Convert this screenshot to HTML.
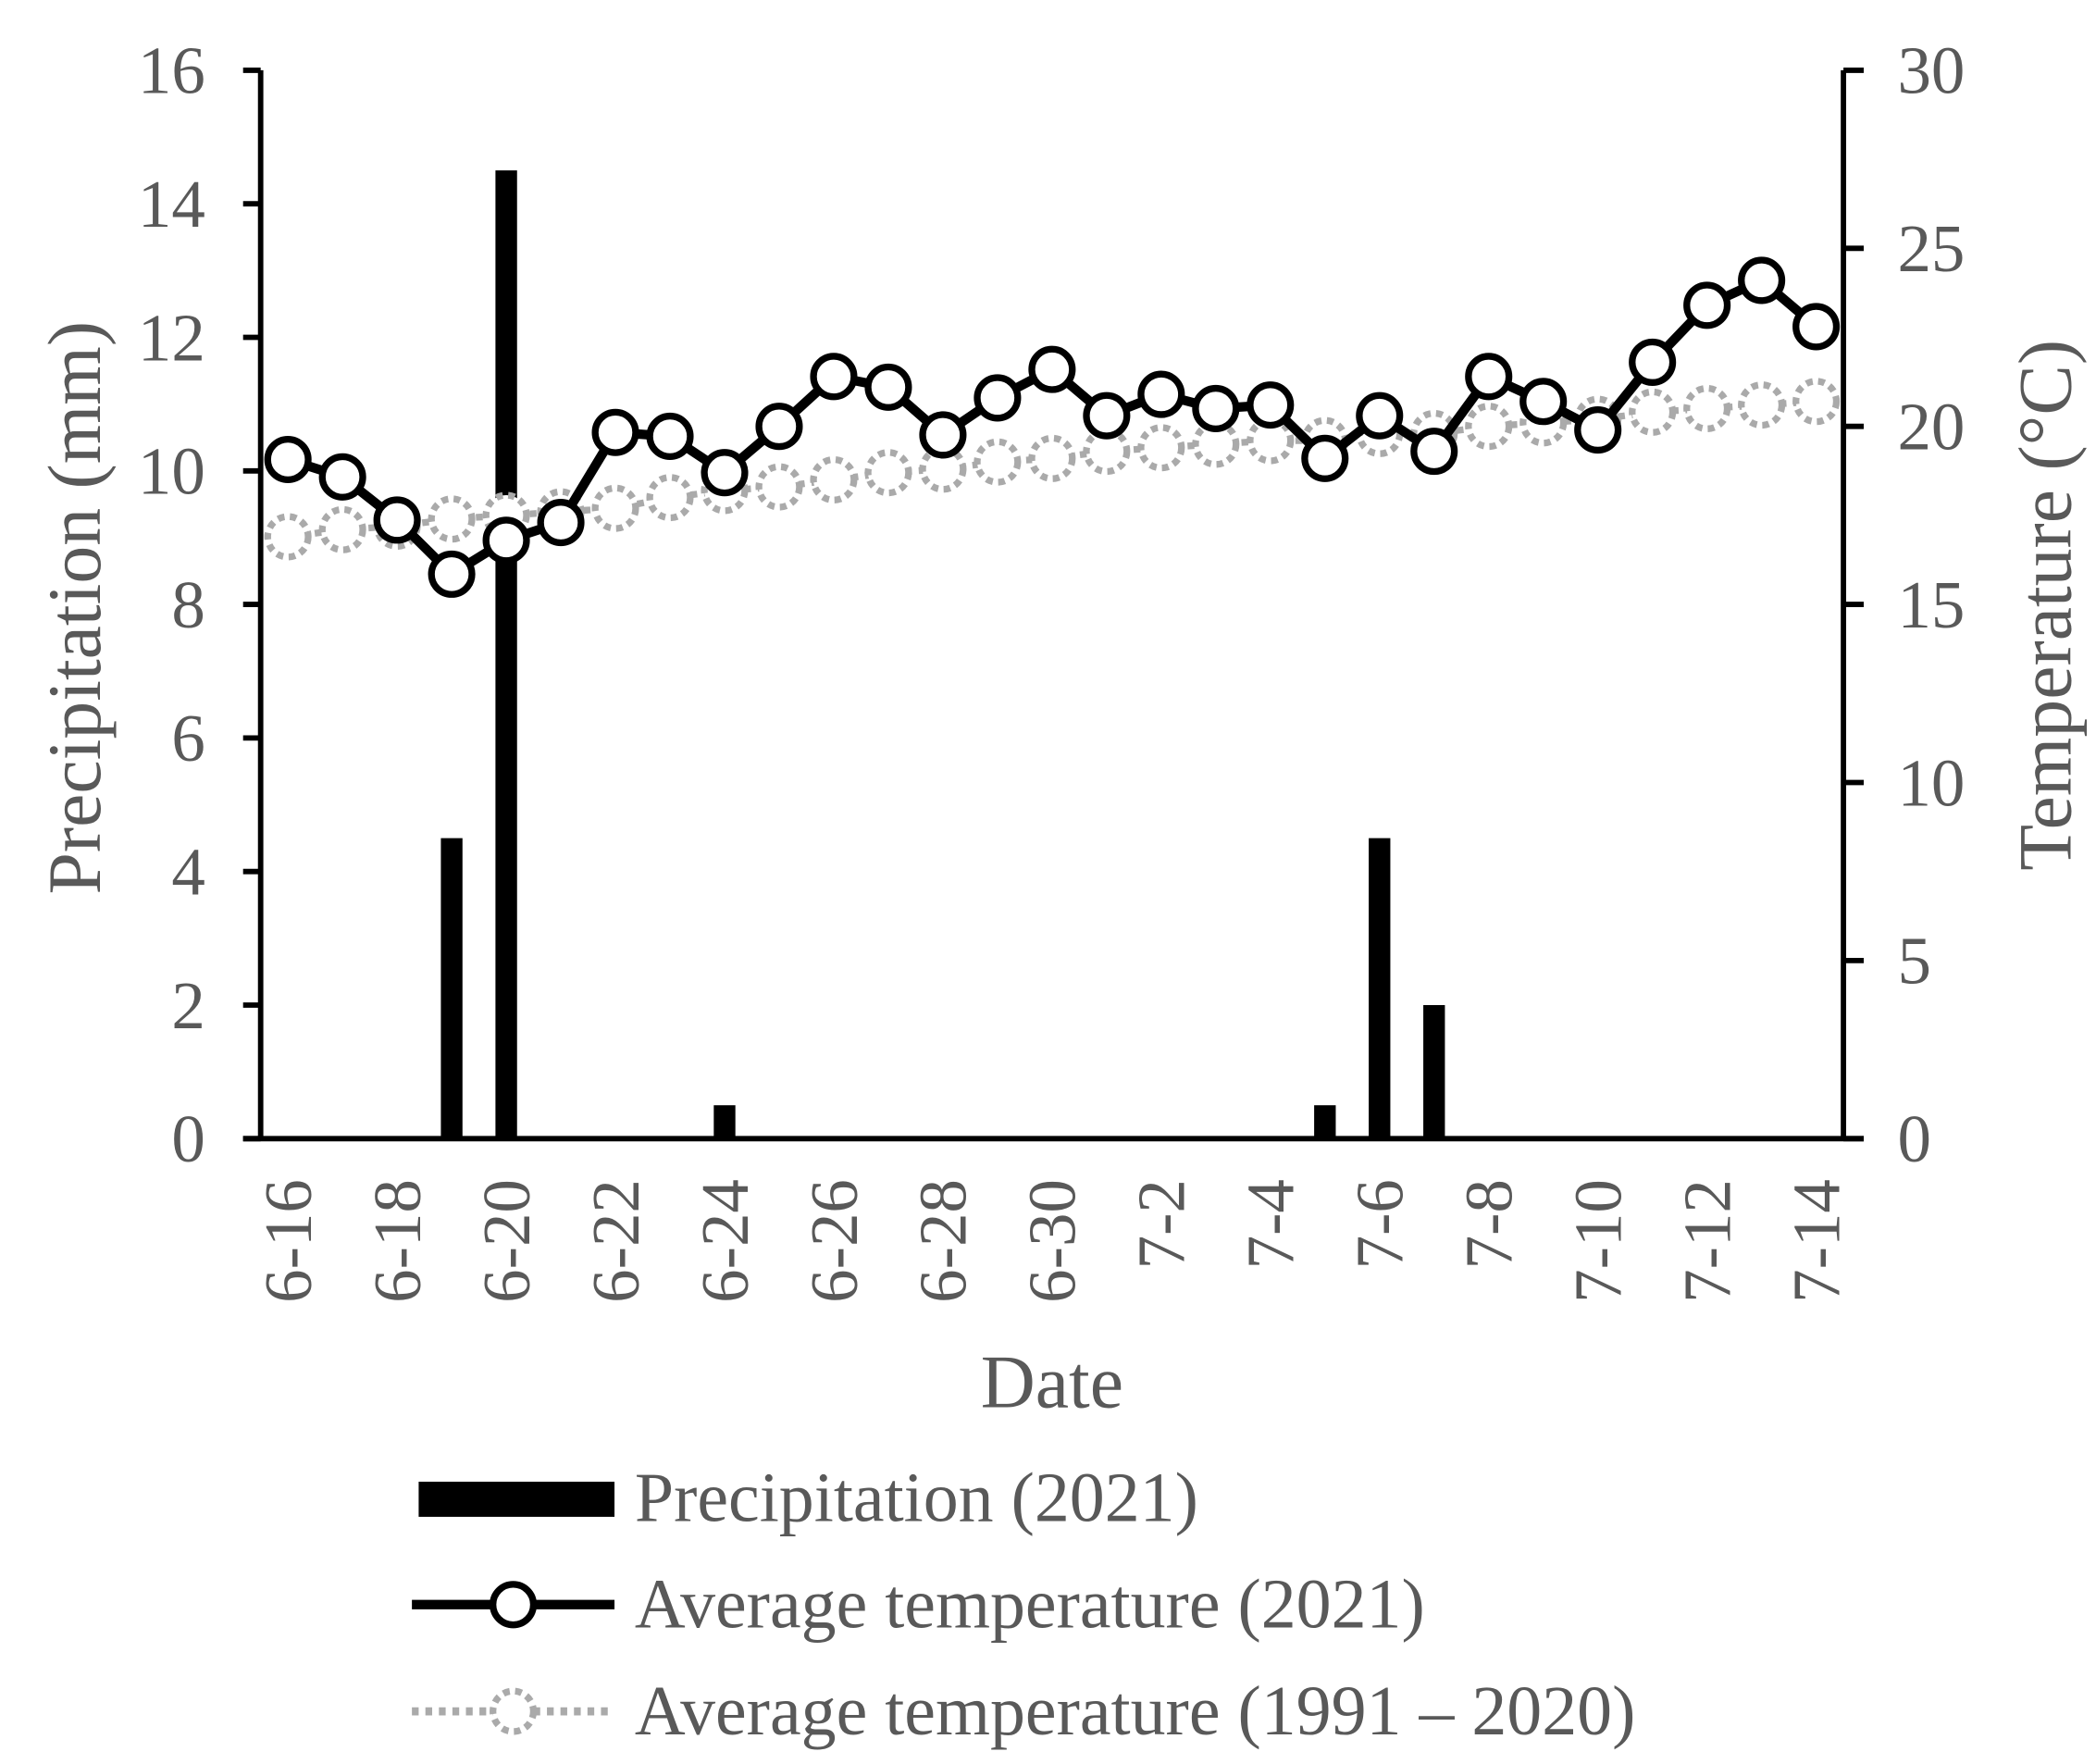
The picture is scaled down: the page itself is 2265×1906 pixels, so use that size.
<!DOCTYPE html>
<html><head><meta charset="utf-8"><style>
html,body{margin:0;padding:0;background:#fff;}
svg{display:block;font-family:"Liberation Serif",serif;}
</style></head><body>
<svg id="chart" width="2265" height="1906" viewBox="0 0 1552 1306" xmlns="http://www.w3.org/2000/svg">
<g id="marks"></g>
<g id="axes"></g>
<text transform="translate(74,450) rotate(-90)" text-anchor="middle" font-size="56" fill="#595959">Precipitation (mm)</text>
<text transform="translate(1533,448) rotate(-90)" text-anchor="middle" font-size="56" fill="#595959">Temperature (°C)</text>
<text x="779" y="1042" text-anchor="middle" font-size="56" fill="#595959">Date</text>
<g>
<rect x="310" y="1097" width="145" height="26" fill="#000"/>
<text x="470" y="1126" font-size="52" fill="#595959">Precipitation (2021)</text>
<line x1="305" y1="1188" x2="455" y2="1188" stroke="#000" stroke-width="7"/>
<circle cx="380" cy="1188" r="15" fill="#fff" stroke="#000" stroke-width="5"/>
<text x="470" y="1205" font-size="52" fill="#595959">Average temperature (2021)</text>
<line x1="305" y1="1267" x2="455" y2="1267" stroke="#aaa" stroke-width="6" stroke-dasharray="5,5"/>
<circle cx="380" cy="1267" r="15" fill="#fff" stroke="#aaa" stroke-width="5" stroke-dasharray="5,4"/>
<text x="470" y="1284" font-size="52" fill="#595959">Average temperature (1991 – 2020)</text>
</g>
</svg>
<script>
const dates=["6-16","6-17","6-18","6-19","6-20","6-21","6-22","6-23","6-24","6-25","6-26","6-27","6-28","6-29","6-30","7-1","7-2","7-3","7-4","7-5","7-6","7-7","7-8","7-9","7-10","7-11","7-12","7-13","7-14"];
const precip=[0,0,0,4.5,14.5,0,0,0,0.5,0,0,0,0,0,0,0,0,0,0,0.5,4.5,2,0,0,0,0,0,0,0];
const temp2021=[19.07,18.58,17.37,15.85,16.8,17.3,19.83,19.72,18.7,20.0,21.4,21.1,19.76,20.8,21.6,20.3,20.9,20.5,20.6,19.1,20.3,19.3,21.4,20.7,19.9,21.8,23.4,24.1,22.8];
const tempNormal=[16.9,17.1,17.2,17.4,17.5,17.6,17.7,18.0,18.2,18.3,18.5,18.7,18.8,19.0,19.1,19.3,19.4,19.5,19.6,19.6,19.8,19.8,20.0,20.1,20.2,20.4,20.5,20.6,20.7];
const leftTicks=[0,2,4,6,8,10,12,14,16];
const rightTicks=[0,5,10,15,20,25,30];

const NS="http://www.w3.org/2000/svg";
const X0=193,X1=1365,Y0=843,YT=52;
const band=(X1-X0)/dates.length;
const xc=i=>X0+band*(i+0.5);
const yL=v=>Y0-(v/16)*(Y0-YT);
const yR=v=>Y0-(v/30)*(Y0-YT);
function mk(tag,attrs,parent){const e=document.createElementNS(NS,tag);for(const k in attrs)e.setAttribute(k,attrs[k]);parent.appendChild(e);return e;}
const marks=document.getElementById('marks'),axes=document.getElementById('axes');

precip.forEach((v,i)=>{if(v<=0)return;
 const r=mk('rect',{x:xc(i)-8,y:yL(v),width:16,height:Y0-yL(v),fill:'#000'},marks);
 
 });

function series(arr,color,dash,name){
 const pts=arr.map((v,i)=>xc(i)+','+yR(v)).join(' ');
 const pl=mk('polyline',{points:pts,fill:'none',stroke:color,'stroke-width':dash?5:7,'stroke-dasharray':dash?'5,5':'none'},marks);
 
 
 arr.forEach((v,i)=>{const c=mk('circle',{cx:xc(i),cy:yR(v),r:15,fill:'#fff',stroke:color,'stroke-width':5,'stroke-dasharray':dash?'5,4':'none'},marks);
  
  });
}
series(tempNormal,'#aaa',true,'normal-temp');
series(temp2021,'#000',false,'temp-2021');

mk('line',{x1:X0,y1:YT,x2:X0,y2:Y0,stroke:'#000','stroke-width':4},axes);
mk('line',{x1:X1,y1:YT,x2:X1,y2:Y0,stroke:'#000','stroke-width':4},axes);
mk('line',{x1:180,y1:Y0,x2:1380,y2:Y0,stroke:'#000','stroke-width':4},axes);
leftTicks.forEach(v=>{mk('line',{x1:180,y1:yL(v),x2:X0,y2:yL(v),stroke:'#000','stroke-width':4},axes);
 const t=mk('text',{x:152,y:yL(v)+17,'text-anchor':'end','font-size':50,fill:'#595959'},axes);t.textContent=v;
 
 });
rightTicks.forEach(v=>{mk('line',{x1:X1,y1:yR(v),x2:1380,y2:yR(v),stroke:'#000','stroke-width':4},axes);
 const t=mk('text',{x:1405,y:yR(v)+17,'text-anchor':'start','font-size':50,fill:'#595959'},axes);t.textContent=v;
 
 });
dates.forEach((d,i)=>{if(i%2)return;
 const t=mk('text',{transform:'translate('+(xc(i)+17)+',873) rotate(-90)','text-anchor':'end','font-size':50,fill:'#595959'},axes);t.textContent=d;
 
 });
</script>
</body></html>
